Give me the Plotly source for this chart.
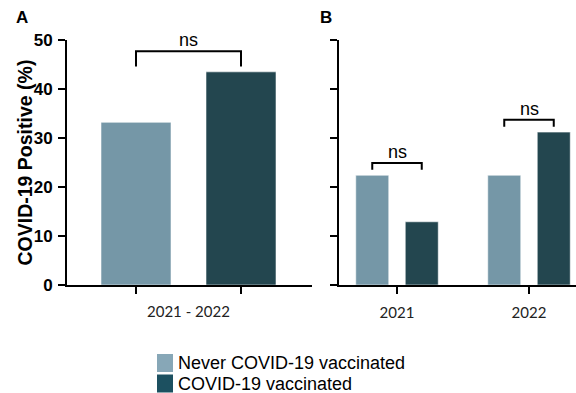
import plotly.graph_objects as go

# Percent COVID-19 positive by vaccination status
period_a = ["2021 - 2022"]
never_a = [33.2]
vacc_a = [43.5]

years_b = ["2021", "2022"]
never_b = [22.4, 22.4]
vacc_b = [12.9, 31.2]

sig_a = ["ns"]
sig_b = ["ns", "ns"]

series_names = ["Never COVID-19 vaccinated", "COVID-19 vaccinated"]
bar_colors = ["#7597A7", "#23464F"]
key_colors = ["#87A7B7", "#1C5060"]
y_title = "COVID-19 Positive (%)"

W, H = 576, 393
ARIAL = "Liberation Sans, Arial, sans-serif"
# plot area geometry (pixels)
y_bottom, y_top = 285, 40
ydom = [1 - y_bottom / H, 1 - y_top / H]

# Panel A: bar centres at -0.5 and +0.5 of the group (105 px per unit)
a_width, a_half = 0.6667, 0.5
# Panel B: bar centres at +/-0.1875 of each year group (132 px per unit)
b_width, b_half = 0.25, 0.1875

fig = go.Figure()
a_groups = list(range(len(period_a)))
b_groups = list(range(len(years_b)))

edge = dict(width=1, color="rgba(255,255,255,0.55)")

for vals, sign, col, name in ((never_a, -1, bar_colors[0], series_names[0]),
                              (vacc_a, 1, bar_colors[1], series_names[1])):
    fig.add_trace(go.Bar(x=a_groups, y=vals, width=a_width,
                         offset=sign * a_half - a_width / 2,
                         marker=dict(color=col, line=edge), name=name,
                         showlegend=False, xaxis="x", yaxis="y"))
for vals, sign, col, name in ((never_b, -1, bar_colors[0], series_names[0]),
                              (vacc_b, 1, bar_colors[1], series_names[1])):
    fig.add_trace(go.Bar(x=b_groups, y=vals, width=b_width,
                         offset=sign * b_half - b_width / 2,
                         marker=dict(color=col, line=edge), name=name,
                         showlegend=False, xaxis="x2", yaxis="y2"))

shapes = []
annotations = []


def bracket(xref, yref, g, half, y1, y2, leg, label):
    base = max(y1, y2) + 1.1
    top = base + leg
    x0, x1 = g - half, g + half
    shapes.append(dict(type="path", xref=xref, yref=yref,
                       path=f"M {x0},{base} L {x0},{top} L {x1},{top} L {x1},{base}",
                       line=dict(color="black", width=2)))
    annotations.append(dict(x=g, y=top, xref=xref, yref=yref, text=label,
                            showarrow=False, yanchor="bottom", yshift=-1,
                            font=dict(size=18, color="black", family=ARIAL)))


for g, n, v, s in zip(a_groups, never_a, vacc_a, sig_a):
    bracket("x", "y", g, a_half, n, v, 3.1, s)
for g, n, v, s in zip(b_groups, never_b, vacc_b, sig_b):
    bracket("x2", "y2", g, b_half, n, v, 1.4, s)

# category label under panel A, centred between its two ticks
for g, lab in zip(a_groups, period_a):
    annotations.append(dict(x=g, y=1 - 311 / H, xref="x", yref="paper", text=lab,
                            showarrow=False, yanchor="middle",
                            font=dict(size=15, color="#222", family="Lato, sans-serif")))

# shared y-axis title, set close to the tick labels
annotations.append(dict(x=24 / W, y=sum(ydom) / 2, xref="paper", yref="paper",
                        text=f"<b>{y_title}</b>", textangle=-90, showarrow=False,
                        xanchor="center", yanchor="middle",
                        font=dict(size=19.5, color="black", family=ARIAL)))

# panel letters
for txt, px in (("A", 22), ("B", 326)):
    annotations.append(dict(x=px / W, y=1 - 17 / H, xref="paper", yref="paper",
                            text=f"<b>{txt}</b>", showarrow=False,
                            xanchor="center", yanchor="middle",
                            font=dict(size=17, color="black", family=ARIAL)))

# colour key below the panels
key_x, key_y, row_h = 157, 354, 20.5
for i, (name, col) in enumerate(zip(series_names, key_colors)):
    top = key_y + i * row_h
    shapes.append(dict(type="rect", xref="paper", yref="paper",
                       x0=key_x / W, x1=(key_x + 16) / W,
                       y0=1 - (top + 18) / H, y1=1 - top / H,
                       fillcolor=col, line=dict(width=0)))
    annotations.append(dict(x=(key_x + 19) / W, y=1 - (top + 9) / H,
                            xref="paper", yref="paper", text=name,
                            showarrow=False, xanchor="left", yanchor="middle",
                            font=dict(size=18, color="black", family=ARIAL)))

axis_common = dict(showline=True, linecolor="black", linewidth=2, showgrid=False,
                   zeroline=False, ticks="outside", ticklen=7, tickwidth=2,
                   tickcolor="black")

a_ticks = [g + d for g in a_groups for d in (-a_half, a_half)]

fig.update_layout(
    width=W, height=H, margin=dict(l=0, r=0, t=0, b=0, autoexpand=False),
    plot_bgcolor="white", paper_bgcolor="white",
    showlegend=False,
    xaxis=dict(domain=[67 / W, 312 / W], range=[-0.5 - 69 / 105, 0.5 + 71 / 105],
               tickvals=a_ticks, ticktext=["" for _ in a_ticks], anchor="y",
               **axis_common),
    yaxis=dict(domain=ydom, range=[0, 50], dtick=10, anchor="x",
               tickfont=dict(size=17, color="black", family=ARIAL, weight="bold"),
               ticklabelstandoff=2,
               **axis_common),
    xaxis2=dict(domain=[339 / W, 1], range=[-58 / 132, 1 + 47 / 132],
                tickvals=b_groups, ticktext=years_b, anchor="y2", ticklabelstandoff=6,
                tickfont=dict(size=15, color="#222", family="Lato, sans-serif"),
                **axis_common),
    yaxis2=dict(domain=ydom, range=[0, 50], dtick=10, anchor="x2",
                showticklabels=False, **axis_common),
    shapes=shapes,
    annotations=annotations,
)

fig.write_html("out.html")
